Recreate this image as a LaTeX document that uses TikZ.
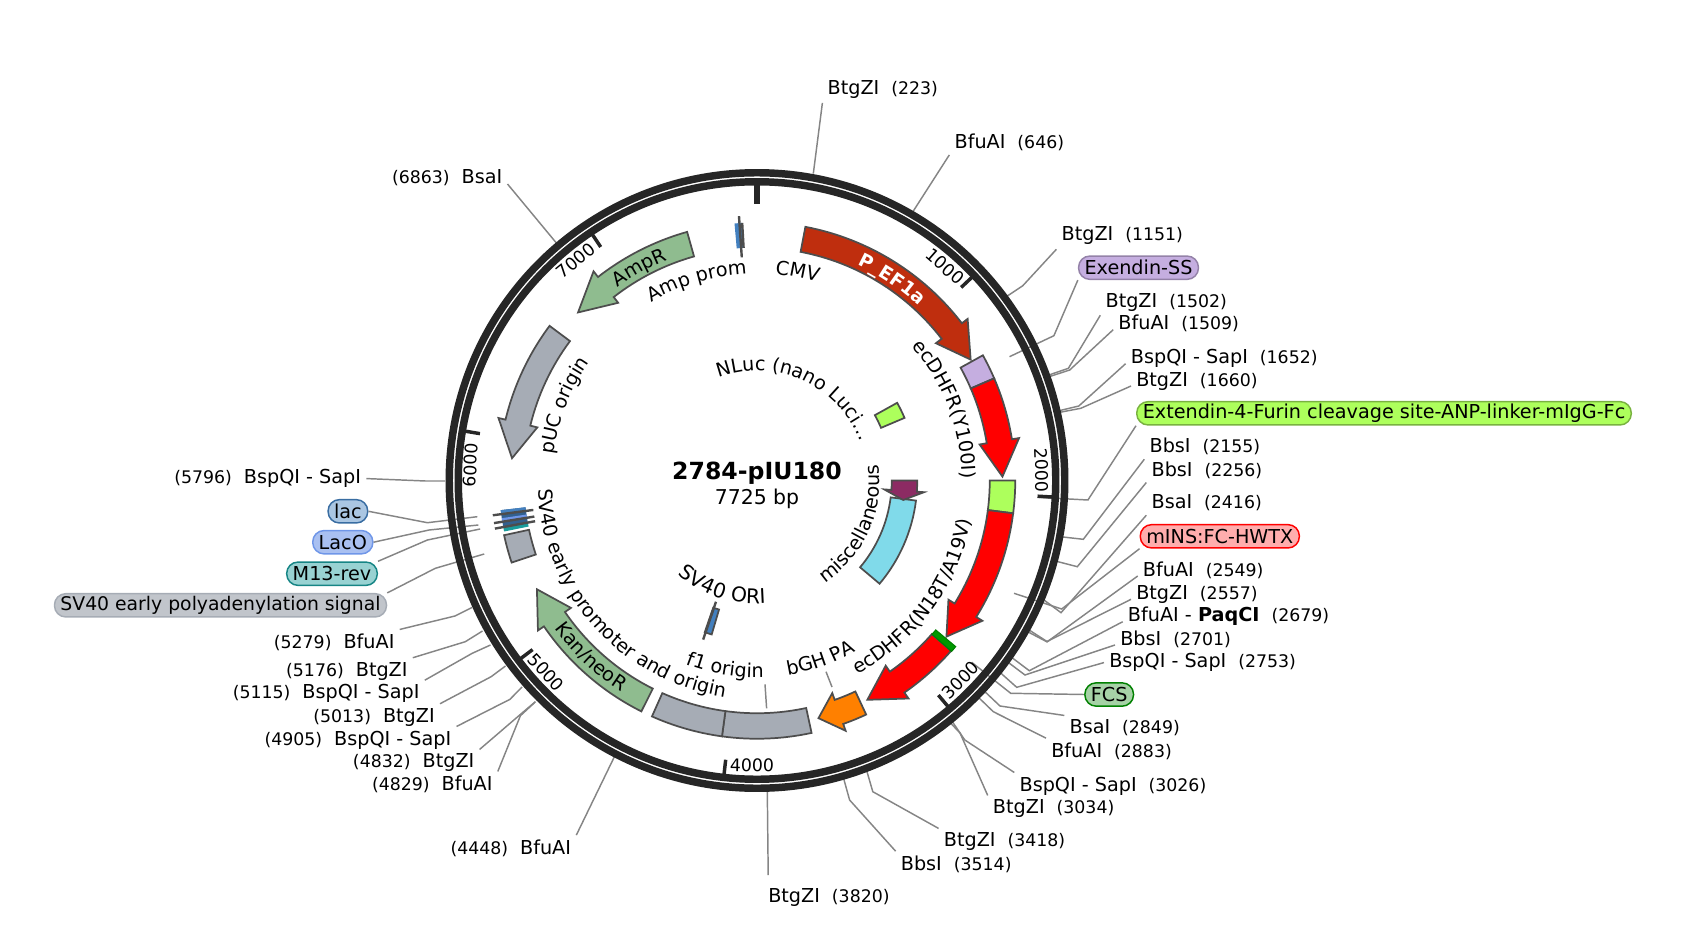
\documentclass[tikz,border=0pt]{standalone}
\usepackage{fontspec}
\setmainfont{DejaVu Sans}
\usetikzlibrary{decorations.text}
\definecolor{ringcol}{HTML}{262626}
\definecolor{linecol}{HTML}{858585}
\definecolor{edgecol}{HTML}{4D4D4D}
\definecolor{promcol}{HTML}{BF2E0E}
\definecolor{signalcol}{HTML}{C5AEE0}
\definecolor{limecol}{HTML}{ADFF5C}
\definecolor{graycol}{HTML}{A6ACB5}
\definecolor{greencol}{HTML}{8FBC8F}
\definecolor{orangecol}{HTML}{FF8000}
\definecolor{cyancol}{HTML}{80DAEA}
\definecolor{maroncol}{HTML}{8C2B63}
\definecolor{bluecol}{HTML}{4380BF}
\definecolor{lacocol}{HTML}{6F96E8}
\definecolor{tealcol}{HTML}{1A9C9C}
\newcommand{\labelsize}{\fontsize{14.4}{16}\selectfont}
\newcommand{\numsize}{\fontsize{13}{15}\selectfont}
% site text: name then position, or position then name
\newcommand{\rsite}[2]{#1\hspace{9pt}{\numsize(#2)}}
\newcommand{\lsite}[2]{{\numsize(#2)}\hspace{9pt}#1}
% fill, start angle, head base angle, tip angle, middle radius
\newcommand{\featarrow}[5]{\filldraw[feature,fill=#1] ({#2}:{#5+12.75}) arc[start angle={#2},end angle={#3},radius={#5+12.75}] -- ({#3}:{#5+20}) -- ({#4}:{#5}) -- ({#3}:{#5-20}) -- ({#3}:{#5-12.75}) arc[start angle={#3},end angle={#2},radius={#5-12.75}] -- cycle;}
% fill, start angle, end angle, middle radius
\newcommand{\featrect}[4]{\filldraw[feature,fill=#1] ({#2}:{#4+12.75}) arc[start angle={#2},end angle={#3},radius={#4+12.75}] -- ({#3}:{#4-12.75}) arc[start angle={#3},end angle={#2},radius={#4-12.75}] -- cycle;}
% thin band with no outline: fill, start angle, end angle
\newcommand{\featband}[3]{\fill[#1] ({#2}:258) arc[start angle={#2},end angle={#3},radius=258] -- ({#3}:233) arc[start angle={#3},end angle={#2},radius=233] -- cycle;}
% curved names: format, text, middle angle, baseline radius
\newcommand{\cwlabel}[4][\labelsize]{\path[decorate,decoration={text along path,text align=center,text={|#1|#2}}] ({#3+80}:#4) arc[start angle={#3+80},end angle={#3-80},radius=#4];}
\newcommand{\ccwlabel}[4][\labelsize]{\path[decorate,decoration={text along path,text align=center,text={|#1|#2}}] ({#3-80}:#4) arc[start angle={#3-80},end angle={#3+80},radius=#4];}
\begin{document}
\begin{tikzpicture}[x=0.75pt,y=-0.75pt,
  font=\labelsize,
  feature/.style={draw=edgecol,line width=1.3pt,line join=miter},
  siteline/.style={draw=linecol,line width=1.1pt},
  featline/.style={draw=edgecol,line width=1.8pt},
  rsitelabel/.style={anchor=base west,inner xsep=3.75pt,inner ysep=3pt,yshift=-0.75pt},
  lsitelabel/.style={anchor=base east,inner xsep=3.75pt,inner ysep=3pt,yshift=-0.75pt},
  namebox/.style={rounded corners=8.5pt,line width=1.1pt,inner xsep=4.5pt,inner ysep=0pt,minimum height=17.5pt},
  ticklabel/.style={font=\numsize},
  tickmark/.style={draw=ringcol,line width=2.6pt}]
  \useasboundingbox (0,0) rectangle (1687,927);
  % Right column: site names
  \node[rsitelabel] (b223) at (822.4,93.6) {\rsite{BtgZI}{223}};
  \node[rsitelabel] (b646) at (949.3,147.4) {\rsite{BfuAI}{646}};
  \node[rsitelabel] (b1151) at (1056.4,240) {\rsite{BtgZI}{1151}};
  \node[namebox,draw=signalcol!75!black,fill=signalcol] (exendin) at (1138.5,267.7) {Exendin-SS};
  \node[rsitelabel] (b1502) at (1100.3,306) {\rsite{BtgZI}{1502}};
  \node[rsitelabel] (b1509) at (1113.2,328.7) {\rsite{BfuAI}{1509}};
  \node[rsitelabel] (b1652) at (1125.6,362.7) {\rsite{BspQI - SapI}{1652}};
  \node[rsitelabel] (b1660) at (1131,385) {\rsite{BtgZI}{1660}};
  \node[namebox,draw=limecol!70!black,fill=limecol] (furin) at (1384,413.3) {Extendin-4-Furin cleavage site-ANP-linker-mIgG-Fc};
  \node[rsitelabel] (b2155) at (1144.3,451.7) {\rsite{BbsI}{2155}};
  \node[rsitelabel] (b2256) at (1146.3,475) {\rsite{BbsI}{2256}};
  \node[rsitelabel] (b2416) at (1146.3,507.7) {\rsite{BsaI}{2416}};
  \node[namebox,draw=red,fill=red!32] (mins) at (1219.8,536.3) {mINS:FC-HWTX};
  \node[rsitelabel] (b2549) at (1137.7,575) {\rsite{BfuAI}{2549}};
  \node[rsitelabel] (b2557) at (1131,598.3) {\rsite{BtgZI}{2557}};
  \node[rsitelabel] (b2679) at (1122.7,620.7) {\rsite{BfuAI - \textbf{PaqCI}}{2679}};
  \node[rsitelabel] (b2701) at (1115,644) {\rsite{BbsI}{2701}};
  \node[rsitelabel] (b2753) at (1104,666.7) {\rsite{BspQI - SapI}{2753}};
  \node[namebox,draw=green!50!black,fill=green!50!black!35] (fcs) at (1109.2,694.5) {FCS};
  \node[rsitelabel] (b2849) at (1064.3,732.7) {\rsite{BsaI}{2849}};
  \node[rsitelabel] (b2883) at (1046,756) {\rsite{BfuAI}{2883}};
  \node[rsitelabel] (b3026) at (1014.3,790) {\rsite{BspQI - SapI}{3026}};
  \node[rsitelabel] (b3034) at (987.7,812.7) {\rsite{BtgZI}{3034}};
  \node[rsitelabel] (b3418) at (938.6,845.7) {\rsite{BtgZI}{3418}};
  \node[rsitelabel] (b3514) at (895.6,869) {\rsite{BbsI}{3514}};
  \node[rsitelabel] (b3820) at (763,901.6) {\rsite{BtgZI}{3820}};
  % Left column: site names
  \node[lsitelabel] (b6863) at (507.5,183) {\lsite{BsaI}{6863}};
  \node[lsitelabel] (b5796) at (366.3,482.7) {\lsite{BspQI - SapI}{5796}};
  \node[namebox,draw=bluecol!85!black,fill=bluecol!45] (lac) at (347.9,511.3) {lac};
  \node[namebox,draw=lacocol,fill=lacocol!60] (laco) at (342.8,542.2) {LacO};
  \node[namebox,draw=tealcol!85!black,fill=tealcol!45] (mrev) at (332,573.7) {M13-rev};
  \node[namebox,draw=graycol,fill=graycol!70,font=\fontsize{14.1}{16}\selectfont] (polya) at (220.5,605.3) {SV40 early polyadenylation signal};
  \node[lsitelabel] (b5279) at (399.7,647.3) {\lsite{BfuAI}{5279}};
  \node[lsitelabel] (b5176) at (412.8,675) {\lsite{BtgZI}{5176}};
  \node[lsitelabel] (b5115) at (424.8,697.7) {\lsite{BspQI - SapI}{5115}};
  \node[lsitelabel] (b5013) at (440,721) {\lsite{BtgZI}{5013}};
  \node[lsitelabel] (b4905) at (456.5,744) {\lsite{BspQI - SapI}{4905}};
  \node[lsitelabel] (b4832) at (479.6,766.7) {\lsite{BtgZI}{4832}};
  \node[lsitelabel] (b4829) at (497.8,789.3) {\lsite{BfuAI}{4829}};
  \node[lsitelabel] (b4448) at (576.3,853) {\lsite{BfuAI}{4448}};
  % Connectors, right side
  \coordinate (s223) at (813.3,173.6);
  \coordinate (s646) at (913,211.5);
  \coordinate (s6863) at (556.3,242.9);
  \draw[siteline] (s223) -- (b223.south west);
  \draw[siteline] (s646) -- (b646.south west);
  \draw[siteline] (s6863) -- (b6863.base east);
  \draw[siteline] (1007.3,296) coordinate (s1151) -- (1022.8,285.7) coordinate (k1151) -- (b1151.south west);
  \draw[siteline] (1009.5,356.7) coordinate (sex) -- (1053.9,335.7) coordinate (kex) -- (exendin.south west);
  \draw[siteline] (1049.2,374.9) coordinate (s1502) -- (1068.4,368.3) coordinate (k1502) -- (b1502.south west);
  \draw[siteline] (1049.7,376.5) coordinate (s1509) -- (1069.7,370) coordinate (k1509) -- (b1509.base west);
  \draw[siteline] (1060,410.5) coordinate (s1652) -- (1078.8,406) coordinate (k1652) -- (b1652.base west);
  \draw[siteline] (1060.4,412.2) coordinate (s1660) -- (1080.8,408.3) coordinate (k1660) -- (b1660.base west);
  \draw[siteline] (1037.3,497.3) coordinate (sfu) -- (1087.9,500) coordinate (kfu) -- (furin.south west);
  \draw[siteline] (1063,537) coordinate (s2155) -- (1083.3,539.3) coordinate (k2155) -- (b2155.south west);
  \draw[siteline] (1058,561.7) coordinate (s2256) -- (1077.3,566.7) coordinate (k2256) -- (b2256.south west);
  \draw[siteline] (1044,600) coordinate (s2416) -- (1061,612.7) coordinate (k2416) -- (b2416.south west);
  \draw[siteline] (1014,593.3) coordinate (smi) -- (1061.7,609) coordinate (kmi) -- (mins.south west);
  \draw[siteline] (1029.6,630.3) coordinate (s2549) -- (1047.3,641.7) coordinate (k2549) -- (b2549.base west);
  \draw[siteline] (1028.6,632.2) coordinate (s2557) -- (1046.7,641.7) coordinate (k2557) -- (b2557.base west);
  \draw[siteline] (1012.4,658) coordinate (s2679) -- (1029.3,670.7) coordinate (k2679) -- (b2679.base west);
  \draw[siteline] (1008.9,662.9) coordinate (s2701) -- (1025,675) coordinate (k2701) -- (b2701.base west);
  \draw[siteline] (1001,673.3) coordinate (s2753) -- (1016.7,687.3) coordinate (k2753) -- (b2753.west);
  \draw[siteline] (971.7,662.3) coordinate (sfc) -- (1010.7,693.3) coordinate (kfc) -- (fcs.west);
  \draw[siteline] (985.1,691.9) coordinate (s2849) -- (1000,706) coordinate (k2849) -- (b2849.north west);
  \draw[siteline] (979.2,698.1) coordinate (s2883) -- (993.3,711.7) coordinate (k2883) -- (b2883.north west);
  \draw[siteline] (952.7,722.2) coordinate (s3026) -- (964.8,740) coordinate (k3026) -- (b3026.north west);
  \draw[siteline] (951,723.5) coordinate (s3034) -- (960,733) coordinate (k3034) -- (b3034.north west);
  \draw[siteline] (866.9,771.4) coordinate (s3418) -- (872.8,791.7) coordinate (k3418) -- (b3418.north west);
  \draw[siteline] (843.8,779.1) coordinate (s3514) -- (849.6,800) coordinate (k3514) -- (b3514.north west);
  \coordinate (s3820) at (767.3,791.5);
  \coordinate (e3820) at (768.2,875);
  \draw[siteline] (s3820) -- (e3820);
  % Connectors, left side
  \draw[siteline] (614.3,756.9) coordinate (s4448) -- (b4448.north east);
  \draw[siteline] (535.5,701.7) coordinate (s4829) -- (520.4,715.7) coordinate (k4829) -- (b4829.north east);
  \draw[siteline] (535,702) coordinate (s4832) -- (519.7,715) coordinate (k4832) -- (b4832.north east);
  \draw[siteline] (522,687) coordinate (s4905) -- (510,699.3) coordinate (k4905) -- (b4905.north east);
  \draw[siteline] (505.5,666) coordinate (s5013) -- (491.1,676.7) coordinate (k5013) -- (b5013.north east);
  \draw[siteline] (490.5,645) coordinate (s5115) -- (472.2,653.3) coordinate (k5115) -- (b5115.north east);
  \draw[siteline] (482.5,631) coordinate (s5176) -- (465.3,641.7) coordinate (k5176) -- (b5176.north east);
  \draw[siteline] (472,607.5) coordinate (s5279) -- (455,616) coordinate (k5279) -- (b5279.north east);
  \draw[siteline] (484.2,554) coordinate (spo) -- (435.3,568.3) coordinate (kpo) -- (polya.north east);
  \draw[siteline] (480.1,529) coordinate (smr) -- (427.4,540) coordinate (kmr) -- (mrev.north east);
  \draw[siteline] (478.4,525) coordinate (slo) -- (429.1,530) coordinate (klo) -- (laco.east);
  \draw[siteline] (477.3,516.7) coordinate (sla) -- (427.4,522.7) coordinate (kla) -- (lac.east);
  \draw[siteline] (445,481) coordinate (s5796) -- (425.7,481) coordinate (k5796) -- (b5796.east);
  % Short lines from feature names
  \coordinate (gh1) at (826,671.7);
  \coordinate (gh2) at (832,687);
  \coordinate (f1a) at (765,684.3);
  \coordinate (f1b) at (766.6,708.3);
  \draw[siteline] (gh1) -- (gh2);
  \draw[siteline] (f1a) -- (f1b);
  \begin{scope}[shift={(757,480.5)},x=0.75pt,y=0.75pt]
    % Backbone rings
    \draw[ringcol,line width=5.6pt] (0,0) circle[radius=307.75];
    \draw[ringcol,line width=5.6pt] (0,0) circle[radius=298.75];
    % Ticks and their numbers
    \draw[ringcol,line width=4.4pt] (90:276.5) -- (90:296);
    \draw[tickmark] (43.4:281) -- (43.4:296);
    \draw[tickmark] (-3.2:281) -- (-3.2:296);
    \draw[tickmark] (-49.8:281) -- (-49.8:296);
    \draw[tickmark] (-96.4:281) -- (-96.4:296);
    \draw[tickmark] (-143:281) -- (-143:296);
    \draw[tickmark] (170.4:281) -- (170.4:296);
    \draw[tickmark] (123.8:281) -- (123.8:296);
    \node[ticklabel,rotate=-41.3] (t1000) at (48.7:285) {1000};
    \node[ticklabel,rotate=-88] (t2000) at (2.1:285) {2000};
    \node[ticklabel,rotate=45.6] (t3000) at (-44.4:285) {3000};
    \node[ticklabel,rotate=-1] (t4000) at (-91:285) {4000};
    \node[ticklabel,rotate=-47.7] (t5000) at (-137.7:285) {5000};
    \node[ticklabel,rotate=86.9] (t6000) at (176.9:287) {6000};
    \node[ticklabel,rotate=39.5] (t7000) at (129.5:285) {7000};
    % Outer track
    \featarrow{promcol}{79.2}{37.5}{29.5}{245.5}
    \featrect{signalcol}{29}{23.3}{245.5}
    \featarrow{red}{23.3}{9.2}{0.9}{245.5}
    \featrect{limecol}{0}{-7.3}{245.5}
    \featarrow{red}{-7.3}{-31.9}{-39.5}{245.5}
    \featarrow{red}{-41.3}{-55.2}{-63.3}{245.5}
    \filldraw[draw=green!50!black,line width=0.8pt,fill=green!60!black] ({-39.9}:259) arc[start angle=-39.9,end angle=-41.3,radius=259] -- ({-41.3}:233) arc[start angle=-41.3,end angle=-39.9,radius=233] -- cycle;
    \featarrow{orangecol}{-65}{-70.5}{-75.5}{245.5}
    \featrect{graycol}{-77.8}{-97.8}{245.5}
    \featrect{graycol}{-97.8}{-114}{245.5}
    \featarrow{greencol}{-116.6}{-145.6}{-153.7}{245.5}
    \featrect{graycol}{-161.5}{-167.8}{246}
    \featarrow{greencol}{105.7}{128}{136.8}{245.5}
    \featarrow{graycol}{143.3}{166.4}{174.8}{246}
    % lac, LacO and M13-rev
    \featband{bluecol!75!black}{-173.4}{-169.6}
    \featband{bluecol}{-173.4}{-172.5}
    \featband{lacocol}{-171.6}{-170.8}
    \featband{tealcol}{-169.6}{-168.6}
    \draw[featline] (-172.5:266.5) -- (-172.5:225.6);
    \draw[featline] (-170.8:266.5) -- (-170.8:225.6);
    \draw[featline] (-169.6:266.5) -- (-169.6:225.6);
    % Amp prom
    \featband{bluecol}{93.3}{95}
    \draw[featline] (93.3:258) -- (93.3:233);
    \draw[featline] (93.9:265) -- (93.9:223.7);
    % Inner track
    \featrect{limecol}{29}{23}{147.5}
    \featrect{cyancol}{-7.2}{-40.1}{147.5}
    \featarrow{maroncol}{0}{-4}{-7.6}{147.5}
    \filldraw[feature,fill=bluecol] (-106.4:160.5) arc[start angle=-106.4,end angle=-109,radius=160.5] -- (-109:134.5) arc[start angle=-109,end angle=-106.4,radius=134.5] -- cycle;
    \draw[featline] (-108.7:128) -- (-108.7:168);
    % Curved feature names
    \cwlabel{CMV}{79}{207}
    \cwlabel{Amp prom}{106.7}{207}
    \cwlabel[\fontsize{14}{16}\selectfont\bfseries\color{white}]{P{\_}EF1a}{56.1}{238}
    \cwlabel{AmpR}{118.9}{238}
    \cwlabel{pUC origin}{158.8}{205}
    \cwlabel{ecDHFR(Y100I)}{20.7}{205}
    \cwlabel{NLuc (nano Luci…}{65.4}{110}
    \ccwlabel{ecDHFR(N18T/A19V)}{-36.5}{218}
    \ccwlabel{bGH PA}{-70.5}{197}
    \ccwlabel{f1 origin}{-99.6}{197}
    \ccwlabel{SV40 early promoter and origin}{-138}{219}
    \ccwlabel{Kan/neoR}{-133.3}{251}
    \ccwlabel{miscellaneous}{-24.5}{123}
    \ccwlabel[\fontsize{15.2}{17}\selectfont]{SV40 ORI}{-108}{123}
    % Plasmid name
    \node[font=\fontsize{17.7}{20}\selectfont\bfseries] (title) at (0,7) {2784-pIU180};
    \node[font=\fontsize{15.3}{18}\selectfont] (size) at (0,-18.5) {7725 bp};
  \end{scope}
\end{tikzpicture}
\end{document}
